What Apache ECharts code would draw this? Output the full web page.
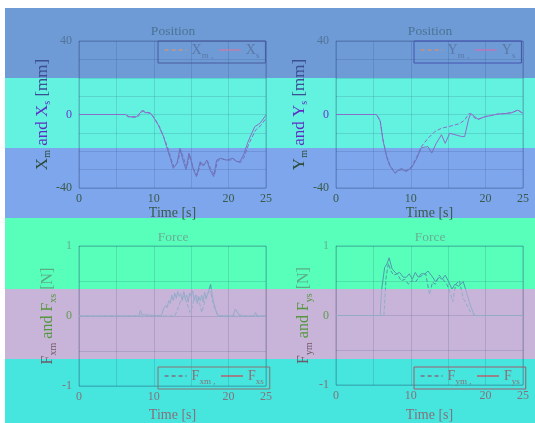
<!DOCTYPE html>
<html>
<head>
<meta charset="utf-8">
<script src="https://cdn.jsdelivr.net/npm/echarts@6/dist/echarts.min.js"></script>
<style>
  html, body { margin: 0; padding: 0; background: #fff; }
  #wrap { position: relative; width: 535px; height: 423px; }
  #bands {
    position: absolute; left: 5px; top: 8px; width: 530px; height: 415px;
    background: linear-gradient(to bottom,
      #6e9bd5 0 70px, #64f2e0 70px 140px, #7ea6ec 140px 210px,
      #57ffbb 210px 281px, #c8b4d8 281px 351px, #46e6de 351px 415px);
  }
  #chart { position: absolute; left: 0; top: 0; width: 535px; height: 423px; }
</style>
</head>
<body>
<div id="wrap">
  <div id="bands"></div>
  <div id="chart"></div>
</div>
<script>
  // position X (master dashed, slave solid)
  var tXm = [0, 6.4, 6.7, 7.8, 8.6, 9.0, 9.6, 10.1, 10.8, 11.4, 11.9, 12.3, 12.7, 13.2, 13.6, 14.0, 14.4, 14.8, 15.3, 15.8, 16.3, 16.7, 17.2, 17.6, 18.1, 18.5, 19.0, 19.8, 20.7, 21.2, 21.6, 22.1, 22.7, 23.6, 24.3, 25];
  var xm = [0, 0, -1.5, -1.5, 2, 1.2, 0.5, -2, -7, -13, -18.5, -24, -28.5, -26, -19.5, -24, -29, -22, -29.5, -33, -26, -27.5, -25.5, -29.5, -33, -25.5, -24, -25, -24.5, -26, -26, -23, -16, -8.5, -6, -2];
  var tXs = [0, 6.2, 6.5, 7.7, 8.5, 8.8, 9.5, 9.9, 10.6, 11.3, 11.7, 12.2, 12.6, 13.1, 13.5, 13.9, 14.3, 14.7, 15.3, 15.7, 16.2, 16.6, 17.1, 17.5, 18.0, 18.4, 18.9, 19.7, 20.6, 21.1, 21.5, 22.0, 22.6, 23.5, 24.2, 25];
  var xs = [0, 0, -1.2, -1.2, 2.4, 1, 1, -1.2, -5.7, -12, -17.5, -23.8, -29.3, -26.6, -18.4, -24.8, -30, -21, -30, -33.8, -25.7, -28, -24.8, -30, -33.8, -24.8, -23.8, -24.8, -23.8, -25.6, -25.6, -22, -14.8, -6.6, -4.8, -0.3];

  // position Y
  var tYm = [0, 5.4, 5.9, 6.3, 6.8, 7.2, 7.9, 8.3, 8.8, 9.4, 10.1, 10.8, 11.4, 12.3, 13.2, 14.1, 15.4, 16.5, 17.2, 17.8, 18.6, 19.0, 19.9, 20.8, 21.7, 22.6, 23.5, 24.3, 25];
  var ym = [0, 0, -3, -13.9, -23, -27.5, -31.7, -30, -29.5, -30.6, -28.4, -23, -17.5, -13, -9.3, -7.5, -6.2, -5, -3, 0.6, -2, -2.6, -1.2, -0.5, 0.3, 0.5, 1, 2.4, 0.6];
  var tYs = [0, 5.4, 5.9, 6.3, 6.8, 7.2, 7.9, 8.3, 8.8, 9.4, 10.1, 10.8, 11.4, 12.3, 12.8, 13.4, 14.1, 14.6, 15.2, 15.9, 16.8, 17.2, 17.7, 18.0, 18.5, 19.0, 19.9, 20.8, 21.7, 22.6, 23.5, 24.3, 25];
  var ys = [0, 0, -3.5, -14.5, -23.5, -28, -32, -30.5, -30, -31, -29, -24, -18, -17.5, -21, -15.7, -11, -15.7, -10.2, -11, -12, -12, -3, 0.6, -1, -2.6, -1.2, -0.5, 0.3, 0.5, 1, 2.4, 0.6];

  // force X
  var tFxm = [0, 12.8, 13.2, 13.6, 14.0, 14.4, 14.8, 15.0, 15.4, 15.8, 16.2, 16.4, 16.8, 17.2, 17.6, 18.0, 18.5, 19, 25];
  var fxm = [0, 0, 0.1, 0.22, 0.28, 0.2, 0.05, 0.08, 0.25, 0.3, 0.15, 0.05, 0.2, 0.32, 0.35, 0.15, 0.02, 0, 0];
  var tFxs = [0, 8.0, 8.2, 8.4, 8.6, 11.0, 11.3, 11.6, 11.8, 12.0, 12.2, 12.4, 12.6, 12.8, 13.0, 13.2, 13.4, 13.6, 13.8, 14.0, 14.2, 14.4, 14.6, 14.8, 15.0, 15.2, 15.4, 15.6, 15.8, 16.0, 16.2, 16.4, 16.6, 16.8, 17.0, 17.2, 17.4, 17.6, 17.8, 18.0, 18.3, 18.6, 20.6, 20.9, 21.3, 21.8, 23.4, 23.6, 23.8, 25];
  var fxs = [0, 0, 0.08, 0.02, 0, 0, 0.1, 0.15, 0.12, 0.22, 0.18, 0.3, 0.22, 0.33, 0.25, 0.35, 0.28, 0.32, 0.22, 0.35, 0.25, 0.3, 0.2, 0.33, 0.28, 0.36, 0.22, 0.3, 0.18, 0.28, 0.22, 0.3, 0.2, 0.34, 0.25, 0.32, 0.3, 0.45, 0.3, 0.2, 0.08, 0, 0, 0.1, 0.03, 0, 0, 0.05, 0, 0];

  // force Y
  var tFym = [0, 6.4, 6.7, 7.0, 7.3, 7.7, 8.2, 8.7, 9.2, 9.7, 10.1, 10.6, 11.1, 11.6, 12.0, 12.5, 12.9, 13.3, 13.8, 14.3, 14.8, 15.2, 15.6, 16.0, 16.5, 17.0, 17.5, 18.0, 18.6, 25];
  var fym = [0, 0, 0.55, 0.75, 0.65, 0.58, 0.6, 0.5, 0.52, 0.45, 0.5, 0.48, 0.55, 0.58, 0.6, 0.3, 0.48, 0.45, 0.58, 0.52, 0.45, 0.35, 0.2, 0.45, 0.5, 0.25, 0.15, 0.05, 0, 0];
  var tFys = [0, 5.9, 6.1, 6.5, 6.8, 7.1, 7.5, 8.1, 8.5, 9.0, 9.4, 9.8, 10.2, 10.6, 11.0, 11.4, 11.9, 12.3, 12.8, 13.3, 13.8, 14.2, 14.6, 15.0, 15.5, 15.9, 16.4, 17.0, 17.4, 17.8, 18.3, 18.6, 25];
  var fys = [0, 0, 0.37, 0.69, 0.74, 0.83, 0.67, 0.6, 0.62, 0.55, 0.55, 0.6, 0.52, 0.62, 0.55, 0.6, 0.6, 0.64, 0.57, 0.49, 0.55, 0.52, 0.58, 0.5, 0.38, 0.45, 0.42, 0.49, 0.35, 0.2, 0.05, 0, 0];

  var posTicks = [-40, 0, 40];
  var forceTicks = [-1, 0, 1];
  var timeTicks = [0, 10, 20, 25];

  var FONT = 'Liberation Serif';
  var H = 423;
  var bandEdges = [8, 78, 148, 218, 289, 359, 423];
  // text tint seen in each band
  var txt = ['#52739a', '#6a34d2', '#3a5a4a', '#66ae90', '#5e9c4c', '#86707c'];
  var lbl = ['#3d4f93', '#5f2dc3', '#2b4b37', '#58ae88', '#55963f', '#6e5a66'];

  function zip(t, v) {
    return t.map(function (x, i) { return [x, v[i]]; });
  }

  function bandGradient(cols) {
    var stops = [];
    for (var i = 0; i < cols.length; i++) {
      stops.push({ offset: bandEdges[i] / H, color: cols[i] });
      stops.push({ offset: bandEdges[i + 1] / H, color: cols[i] });
    }
    return { type: 'linear', x: 0, y: 0, x2: 0, y2: H, global: true, colorStops: stops };
  }

  var posLine = bandGradient(['#7a6fb0', '#8c6cc8', '#6e72b8', '#4e9aa8', '#94acc8', '#7a8c9c']);
  var forceLine = bandGradient(['#7a6fb0', '#8c6cc8', '#6e72b8', '#4f98aa', '#93abc9', '#7a8c9c']);

  var gridLine = 'rgba(20,40,90,0.14)';
  var frame = 'rgba(20,40,90,0.28)';

  function sub(main, s, ib) {
    return '{m' + ib + '|' + main + '}{s' + ib + '|' + s + '}';
  }
  function nameRich(size, subSize) {
    var r = {};
    for (var i = 0; i < 6; i++) {
      r['m' + i] = { fontFamily: FONT, fontSize: size, lineHeight: 20, color: lbl[i] };
      r['s' + i] = { fontFamily: FONT, fontSize: subSize, verticalAlign: 'bottom', color: lbl[i] };
    }
    return r;
  }

  function xAxisOf(gi, band, gap) {
    return {
      gridIndex: gi, type: 'value', min: 0, max: 25, interval: 5,
      name: 'Time [s]', nameLocation: 'middle', nameGap: gap,
      nameTextStyle: { fontFamily: FONT, fontSize: 14, color: txt[band] },
      axisLine: { show: false }, axisTick: { show: false },
      splitLine: { show: true, lineStyle: { color: gridLine, width: 1 } },
      axisLabel: {
        margin: 5, fontFamily: FONT, fontSize: 12, color: txt[band],
        formatter: function (v) { return timeTicks.indexOf(v) >= 0 ? String(v) : ''; }
      }
    };
  }

  function yAxisOf(gi, lo, hi, step, ticks, bands, name, gap, size, subSize) {
    return {
      gridIndex: gi, type: 'value', min: lo, max: hi, interval: step,
      name: name, nameLocation: 'middle', nameGap: gap,
      nameTextStyle: { rich: nameRich(size, subSize) },
      axisLine: { show: false }, axisTick: { show: false },
      splitLine: { show: true, lineStyle: { color: gridLine, width: 1 } },
      axisLabel: {
        margin: 7, fontFamily: FONT, fontSize: 12,
        color: function (v) {
          var k = ticks.indexOf(Number(v));
          return txt[bands[k < 0 ? 1 : k]];
        },
        formatter: function (v) { return ticks.indexOf(v) >= 0 ? String(v) : ''; }
      }
    };
  }

  function legendOf(left, top, names, labels, cols, dashes, border, textCol) {
    return {
      left: left, top: top, orient: 'horizontal', selectedMode: false,
      itemWidth: 22, itemHeight: 14, itemGap: 5, padding: [2, 6, 3, 6],
      borderColor: border, borderWidth: 1,
      itemStyle: { opacity: 0 },
      data: names.map(function (n, i) {
        return { name: n, lineStyle: { color: cols[i], width: 1.2, type: dashes[i] ? [4, 3] : 'solid' } };
      }),
      formatter: function (n) { return labels[names.indexOf(n)]; },
      textStyle: {
        rich: {
          n: { fontFamily: FONT, fontSize: 14, lineHeight: 20, color: textCol },
          s: { fontFamily: FONT, fontSize: 9, verticalAlign: 'bottom', color: textCol }
        }
      }
    };
  }

  function lineSeries(name, xi, t, v, color, dashed) {
    return {
      name: name, type: 'line', xAxisIndex: xi, yAxisIndex: xi,
      data: zip(t, v), symbol: 'none', showSymbol: false, silent: true,
      lineStyle: { color: color, width: 1, type: dashed ? [4, 2] : 'solid' },
      itemStyle: { color: '#888' }
    };
  }

  function title(text, x, y, col) {
    return {
      type: 'text', x: x, y: y, silent: true,
      style: { text: text, font: '13.5px "' + FONT + '"', fill: col,
        textAlign: 'center', textVerticalAlign: 'middle', align: 'center', verticalAlign: 'middle' }
    };
  }

  var chart = echarts.init(document.getElementById('chart'), null, { renderer: 'canvas' });
  chart.setOption({
    animation: false,
    backgroundColor: 'transparent',
    grid: [
      { left: 79, top: 41, width: 187, height: 147, show: true, borderColor: frame, borderWidth: 1 },
      { left: 336, top: 41, width: 187, height: 147, show: true, borderColor: frame, borderWidth: 1 },
      { left: 79, top: 246, width: 187, height: 145, show: true, borderColor: frame, borderWidth: 1 },
      { left: 336, top: 246, width: 187, height: 145, show: true, borderColor: frame, borderWidth: 1 }
    ],
    xAxis: [xAxisOf(0, 2, 18), xAxisOf(1, 2, 18), xAxisOf(2, 5, 22), xAxisOf(3, 5, 23)],
    yAxis: [
      yAxisOf(0, -40, 40, 10, posTicks, [2, 1, 0], sub('X', 'm', 2) + '{m1| and }' + sub('X', 's', 1) + '{m0| [mm]}', 22, 17, 10),
      yAxisOf(1, -40, 40, 10, posTicks, [2, 1, 0], sub('Y', 'm', 2) + '{m1| and }' + sub('Y', 's', 1) + '{m0| [mm]}', 22, 17, 10),
      yAxisOf(2, -1, 1, 0.5, forceTicks, [5, 4, 3], sub('F', 'xm', 5) + '{m4| and }' + sub('F', 'xs', 4) + '{m3| [N]}', 21, 16, 10),
      yAxisOf(3, -1, 1, 0.5, forceTicks, [5, 4, 3], sub('F', 'ym', 5) + '{m4| and }' + sub('F', 'ys', 4) + '{m3| [N]}', 22, 16, 10)
    ],
    legend: [
      legendOf(158, 41, ['Xm', 'Xs'], ['{n|X}{s|m ,}', '{n|X}{s|s}'], ['#ea965c', '#d27aa4'], [true, false], '#4a5a9c', '#5b78a8'),
      legendOf(414, 41, ['Ym', 'Ys'], ['{n|Y}{s|m ,}', '{n|Y}{s|s}'], ['#f08c5c', '#d070b0'], [true, false], '#4652b0', '#5b78a8'),
      legendOf(158, 367, ['Fxm', 'Fxs'], ['{n|F}{s|xm ,}', '{n|F}{s|xs}'], ['#9a3050', '#d04050'], [true, false], '#8a7070', '#8a7078'),
      legendOf(414, 367, ['Fym', 'Fys'], ['{n|F}{s|ym ,}', '{n|F}{s|ys}'], ['#9a3050', '#d04050'], [true, false], '#a05a6a', '#8a7078')
    ],
    graphic: [
      title('Position', 173, 31, '#4a7396'),
      title('Position', 430, 31, '#4a7396'),
      title('Force', 173, 237, '#6aae94'),
      title('Force', 430, 237, '#6aae94')
    ],
    series: [
      lineSeries('Xm', 0, tXm, xm, posLine, true),
      lineSeries('Xs', 0, tXs, xs, posLine, false),
      lineSeries('Ym', 1, tYm, ym, posLine, true),
      lineSeries('Ys', 1, tYs, ys, posLine, false),
      lineSeries('Fxm', 2, tFxm, fxm, forceLine, true),
      lineSeries('Fxs', 2, tFxs, fxs, forceLine, false),
      lineSeries('Fym', 3, tFym, fym, forceLine, true),
      lineSeries('Fys', 3, tFys, fys, forceLine, false)
    ]
  });
</script>
</body>
</html>
